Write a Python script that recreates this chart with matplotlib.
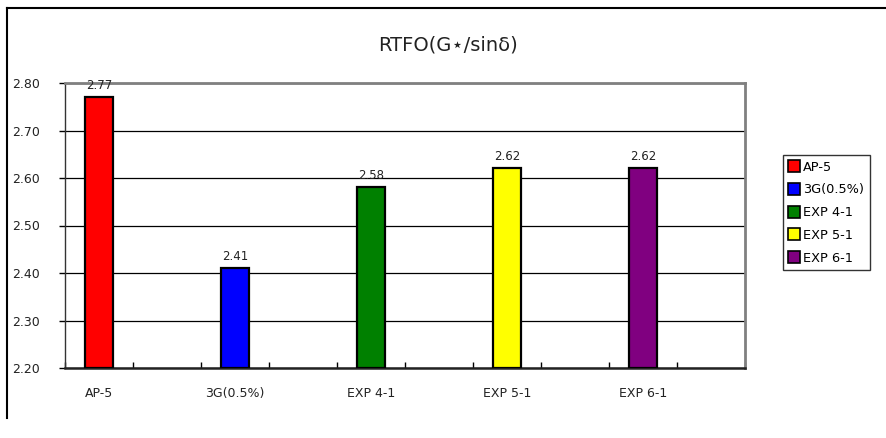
import matplotlib
matplotlib.use('Agg')
import matplotlib.pyplot as plt
from matplotlib.lines import Line2D

categories = ['AP-5', '3G(0.5%)', 'EXP 4-1', 'EXP 5-1', 'EXP 6-1']
values = [2.77, 2.41, 2.58, 2.62, 2.62]
colors = ['#ff0000', '#0000ff', '#008000', '#ffff00', '#800080']
yticks = [2.20, 2.30, 2.40, 2.50, 2.60, 2.70, 2.80]

plt.rcParams['font.family'] = ['DejaVu Sans']

fig = plt.figure(figsize=(8.86, 4.38), dpi=100)
ax = fig.add_axes([65 / 886, 1 - 368 / 438, 680 / 886, 285 / 438])

# bars sit in every other slot of 10 slots, like the Excel original
positions = [2 * i + 0.5 for i in range(len(categories))]
base = yticks[0]
for x, v, c, lab in zip(positions, values, colors, categories):
    ax.bar(x, v - base, bottom=base, width=0.42, color=c,
           edgecolor='black', linewidth=1.6, label=lab, zorder=3)
    ax.text(x, v + 0.012, f'{v:.2f}', ha='center', va='bottom',
            fontsize=8.5, color='#222222')

ax.set_xlim(0, 10)
ax.set_ylim(yticks[0], yticks[-1])
ax.set_yticks(yticks)
ax.set_yticklabels([f'{t:.2f}' for t in yticks], fontsize=9, color='#222222')
ax.set_xticks(positions)
ax.set_xticklabels(categories, fontsize=9, color='#222222')
ax.tick_params(axis='x', length=0, pad=14)
ax.set_xticks(range(0, 11), minor=True)
ax.tick_params(axis='x', which='minor', direction='in', length=4, width=1)
ax.tick_params(axis='y', direction='out', length=4, width=1, pad=14)

ax.grid(axis='y', color='black', linewidth=0.9, zorder=0)
ax.set_axisbelow(True)

ax.spines['top'].set_color('#808080')
ax.spines['top'].set_linewidth(2)
ax.spines['right'].set_color('#808080')
ax.spines['right'].set_linewidth(2)
ax.spines['left'].set_color('#333333')
ax.spines['left'].set_linewidth(1)
ax.spines['bottom'].set_color('#222222')
ax.spines['bottom'].set_linewidth(1.8)

fig.text(448 / 886, 1 - 45 / 438, 'RTFO(G\u22c6/sin\u03b4)', ha='center',
         va='center', fontsize=14, color='#222222')

handles = [Line2D([], [], marker='s', linestyle='none', markersize=8,
                  markerfacecolor=c, markeredgecolor='black', markeredgewidth=1.2)
           for c in colors]
leg = fig.legend(handles, categories, loc='upper left',
                 bbox_to_anchor=(783 / 886, 1 - 155 / 438),
                 fontsize=9.3, frameon=True, fancybox=False, handlelength=0.8,
                 handletextpad=0.3, labelspacing=0.75, borderpad=0.45,
                 borderaxespad=0)
leg.get_frame().set_edgecolor('black')
leg.get_frame().set_linewidth(1)

# outer chart frame (top and left edges visible in the crop)
fig.add_artist(Line2D([7 / 886, 1], [1 - 8 / 438, 1 - 8 / 438],
                      transform=fig.transFigure, color='black', linewidth=1.5))
fig.add_artist(Line2D([7 / 886, 7 / 886], [1 - 8 / 438, 1 - 418 / 438],
                      transform=fig.transFigure, color='black', linewidth=1.5))

fig.savefig('out.png', dpi=100)
